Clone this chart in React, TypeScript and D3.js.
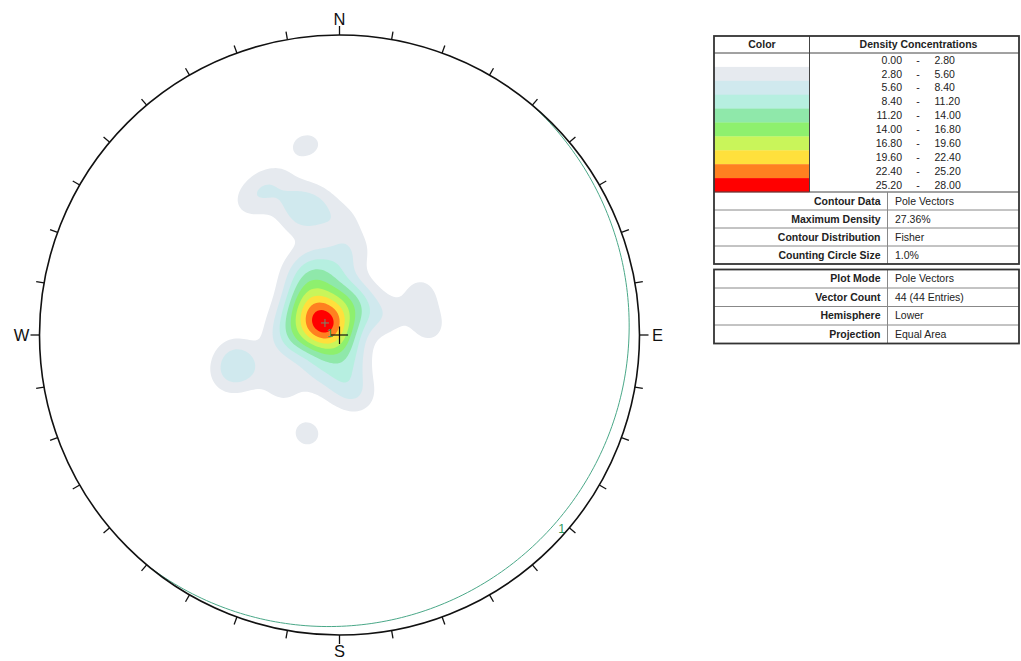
import React, { useMemo } from 'react';
import * as d3 from 'd3';

// ---- data: pole vectors (trend, plunge in degrees) ----
const poleTrends = [
  304.3, 316.1, 306.0, 298.8, 1.9, 330.9, 266.3, 316.4, 353.6, 275.6, 270.0,
  289.0, 40.5, 336.3, 217.5, 315.4, 8.6, 257.2, 142.3,
  341.4, 356.2, 327.9, 161.3, 210.2, 177.1, 267.0, 32.7,
  341.4, 349.8, 341.9, 327.1, 0.3, 335.4,
  8.4,
  258.1, 250.9, 250.4,
  63.3, 84.3,
  68.4,
  350.0,
  198.2,
  163.1, 229.0,
];
const polePlunges = [
  83.3, 85.1, 84.5, 79.3, 85.9, 79.2, 85.8, 78.0, 81.6, 81.7, 89.3,
  75.8, 84.0, 75.5, 84.9, 74.4, 78.2, 79.0, 86.2,
  69.1, 71.8, 69.8, 81.2, 78.4, 76.7, 74.4, 78.7,
  50.8, 53.4, 56.9, 45.4, 59.1, 43.6,
  66.6,
  60.8, 63.3, 57.3,
  65.2, 65.5,
  76.8,
  35.9,
  61.6,
  72.7, 69.3,
];

const densityLevels = [0, 2.8, 5.6, 8.4, 11.2, 14.0, 16.8, 19.6, 22.4, 25.2, 28.0];
const levelColors = [
  '#ffffff', '#e6eaef', '#d0e9ee', '#b6efe0', '#8fe8aa',
  '#8ef06e', '#c9f55a', '#ffe03c', '#ff8020', '#ff0000',
];
const maxDensity = 27.36;

const contourInfoLabels = ['Contour Data', 'Maximum Density', 'Contour Distribution', 'Counting Circle Size'];
const contourInfoValues = ['Pole Vectors', '27.36%', 'Fisher', '1.0%'];
const plotInfoLabels = ['Plot Mode', 'Vector Count', 'Hemisphere', 'Projection'];
const plotInfoValues = ['Pole Vectors', '44 (44 Entries)', 'Lower', 'Equal Area'];

const meanPlaneDipDirection = 129.6;
const meanPlaneDip = 5.1;
const meanPlaneLabel = '1';

const cardinalLabels = ['N', 'E', 'S', 'W'];
const cardinalAzimuths = [0, 90, 180, 270];

// ---- layout ----
const W = 1021;
const H = 661;
const CX = 339.5;
const CY = 335;
const R = 300;
const KAPPA = 176;
const STEP = 2;

const rad = Math.PI / 180;
const FONT = "'Liberation Sans', Arial, sans-serif";

function project(trend: number, plunge: number): [number, number] {
  const theta = (90 - plunge) * rad;
  const r = R * Math.SQRT2 * Math.sin(theta / 2);
  return [CX + r * Math.sin(trend * rad), CY - r * Math.cos(trend * rad)];
}

export default function App() {
  const contourPaths = useMemo(() => {
    const vecs = poleTrends.map((t, i) => {
      const p = polePlunges[i] * rad;
      return [Math.cos(p) * Math.sin(t * rad), Math.cos(p) * Math.cos(t * rad), Math.sin(p)];
    });
    const n = Math.round((2 * R) / STEP) + 1;
    const x0 = CX - R;
    const y0 = CY - R;
    const values = new Float64Array(n * n);
    let maxRaw = 0;
    for (let j = 0; j < n; j++) {
      for (let i = 0; i < n; i++) {
        const dx = (x0 + i * STEP - CX) / R;
        const dn = (CY - (y0 + j * STEP)) / R;
        const rho = Math.sqrt(dx * dx + dn * dn);
        if (rho > 1) continue;
        const th = 2 * Math.asin(Math.min(1, rho / Math.SQRT2));
        const s = Math.sin(th);
        const e = rho > 0 ? (s * dx) / rho : 0;
        const no = rho > 0 ? (s * dn) / rho : 0;
        const d = Math.cos(th);
        let sum = 0;
        for (const v of vecs) {
          const dot = Math.abs(e * v[0] + no * v[1] + d * v[2]);
          sum += Math.exp(KAPPA * (dot - 1));
        }
        values[j * n + i] = sum;
        if (sum > maxRaw) maxRaw = sum;
      }
    }
    const scale = maxDensity / maxRaw;
    for (let k = 0; k < values.length; k++) values[k] *= scale;
    const contours = d3.contours().size([n, n]).thresholds(densityLevels.slice(1, 10))(Array.from(values));
    const path = d3.geoPath(
      d3.geoTransform({
        point(x: number, y: number) {
          (this as any).stream.point(x0 + (x - 0.5) * STEP, y0 + (y - 0.5) * STEP);
        },
      })
    );
    return contours.map((c, idx) => ({ d: path(c as any) || '', color: levelColors[idx + 1] }));
  }, []);

  const greatCircle = useMemo(() => {
    const pts: [number, number][] = [];
    for (let a = meanPlaneDipDirection - 90; a <= meanPlaneDipDirection + 90; a += 1) {
      const app = Math.atan(Math.tan(meanPlaneDip * rad) * Math.cos((a - meanPlaneDipDirection) * rad)) / rad;
      pts.push(project(a, app));
    }
    return d3.line()(pts) || '';
  }, []);

  const meanPole = project(meanPlaneDipDirection + 180, 90 - meanPlaneDip);
  const labelAz = (meanPlaneDipDirection + 1.5) * rad;
  const labelPos: [number, number] = [CX + 295 * Math.sin(labelAz), CY - 295 * Math.cos(labelAz) + 4];

  const ticks = d3.range(0, 360, 10);

  // table geometry
  const tX0 = 714;
  const tX1 = 1019;
  const tColDiv = 809.5;
  const tTop = 36;
  const tHeadBottom = 53;
  const rowH = 13.9;
  const nBands = levelColors.length;
  const bandsBottom = tHeadBottom + nBands * rowH; // ~192
  const infoRowH = 18;
  const infoDiv = 887.5;
  const info1Bottom = bandsBottom + contourInfoLabels.length * infoRowH;
  const t3Top = 269.5;
  const t3RowH = 18.5;
  const t3Bottom = t3Top + plotInfoLabels.length * t3RowH;

  const fmt = d3.format('.2f');

  return (
    <svg width={W} height={H} style={{ position: 'absolute', left: 0, top: 0, background: '#fff' }}>
      <defs>
        <clipPath id="net">
          <circle cx={CX} cy={CY} r={R} />
        </clipPath>
      </defs>
      <g clipPath="url(#net)">
        {contourPaths.map((c, i) => (
          <path key={i} d={c.d} fill={c.color} stroke="none" />
        ))}
      </g>
      {/* mean plane great circle */}
      <path d={greatCircle} fill="none" stroke="#4aa888" strokeWidth={1} />
      <text x={labelPos[0]} y={labelPos[1]} fill="#2f9a5f" fontFamily={FONT} fontSize={12.5} textAnchor="middle">
        {meanPlaneLabel}
      </text>
      {/* primitive */}
      <circle cx={CX} cy={CY} r={R} fill="none" stroke="#111" strokeWidth={1.6} />
      {ticks.map((a) => {
        const s = Math.sin(a * rad);
        const c = Math.cos(a * rad);
        const len = a % 90 === 0 ? 9 : 8;
        return (
          <line key={a} x1={CX + R * s} y1={CY - R * c} x2={CX + (R + len) * s} y2={CY - (R + len) * c} stroke="#111" strokeWidth={1.3} />
        );
      })}
      {cardinalLabels.map((l, i) => {
        const a = cardinalAzimuths[i] * rad;
        const rr = R + (i % 2 === 0 ? 16 : 18);
        return (
          <text key={l} x={CX + rr * Math.sin(a)} y={CY - rr * Math.cos(a) + 6} fontFamily={FONT} fontSize={16.5} textAnchor="middle" fill="#111">
            {l}
          </text>
        );
      })}
      {/* center cross */}
      <line x1={CX - 8.5} y1={CY} x2={CX + 8.5} y2={CY} stroke="#111" strokeWidth={1.2} />
      <line x1={CX} y1={CY - 8.5} x2={CX} y2={CY + 9} stroke="#111" strokeWidth={1.2} />
      {/* mean pole */}
      <line x1={meanPole[0] - 4} y1={meanPole[1]} x2={meanPole[0] + 4} y2={meanPole[1]} stroke="#6f8f75" strokeWidth={1} />
      <line x1={meanPole[0]} y1={meanPole[1] - 4} x2={meanPole[0]} y2={meanPole[1] + 4} stroke="#6f8f75" strokeWidth={1} />
      <text x={meanPole[0] + 5} y={meanPole[1] + 14} fill="#2f9a5f" fontFamily={FONT} fontSize={11} textAnchor="middle">
        {meanPlaneLabel}
      </text>

      {/* ---- legend table ---- */}
      <g fontFamily={FONT} fontSize={10.5} fill="#222">
        {levelColors.map((col, i) => (
          <rect key={i} x={tX0} y={tHeadBottom + i * rowH} width={tColDiv - tX0} height={rowH + 0.3} fill={col} />
        ))}
        {levelColors.map((_, i) => {
          const y = tHeadBottom + i * rowH + rowH / 2 + 3.7;
          return (
            <g key={i}>
              <text x={902} y={y} textAnchor="end">{fmt(densityLevels[i])}</text>
              <text x={918} y={y} textAnchor="middle">-</text>
              <text x={934.5} y={y}>{fmt(densityLevels[i + 1])}</text>
            </g>
          );
        })}
        <text x={762} y={48} textAnchor="middle" fontWeight="bold">Color</text>
        <text x={918.5} y={48} textAnchor="middle" fontWeight="bold">Density Concentrations</text>
        <line x1={tX0} y1={tHeadBottom} x2={tX1} y2={tHeadBottom} stroke="#444" strokeWidth={1} />
        <line x1={tColDiv} y1={tTop} x2={tColDiv} y2={bandsBottom} stroke="#444" strokeWidth={1} />
        <line x1={tX0} y1={bandsBottom} x2={tX1} y2={bandsBottom} stroke="#444" strokeWidth={1} />
        {contourInfoLabels.map((l, i) => {
          const yTop = bandsBottom + i * infoRowH;
          return (
            <g key={l}>
              {i > 0 && <line x1={tX0} y1={yTop} x2={tX1} y2={yTop} stroke="#888" strokeWidth={1} />}
              <text x={880.5} y={yTop + infoRowH / 2 + 3.7} textAnchor="end" fontWeight="bold">{l}</text>
              <text x={895} y={yTop + infoRowH / 2 + 3.7}>{contourInfoValues[i]}</text>
            </g>
          );
        })}
        <line x1={infoDiv} y1={bandsBottom} x2={infoDiv} y2={info1Bottom} stroke="#888" strokeWidth={1} />
        <rect x={tX0} y={tTop} width={tX1 - tX0} height={info1Bottom - tTop} fill="none" stroke="#333" strokeWidth={1.8} />

        {plotInfoLabels.map((l, i) => {
          const yTop = t3Top + i * t3RowH;
          return (
            <g key={l}>
              {i > 0 && <line x1={tX0} y1={yTop} x2={tX1} y2={yTop} stroke="#888" strokeWidth={1} />}
              <text x={880.5} y={yTop + t3RowH / 2 + 3.7} textAnchor="end" fontWeight="bold">{l}</text>
              <text x={895} y={yTop + t3RowH / 2 + 3.7}>{plotInfoValues[i]}</text>
            </g>
          );
        })}
        <line x1={infoDiv} y1={t3Top} x2={infoDiv} y2={t3Bottom} stroke="#888" strokeWidth={1} />
        <rect x={tX0} y={t3Top} width={tX1 - tX0} height={t3Bottom - t3Top} fill="none" stroke="#333" strokeWidth={1.8} />
      </g>
    </svg>
  );
}
